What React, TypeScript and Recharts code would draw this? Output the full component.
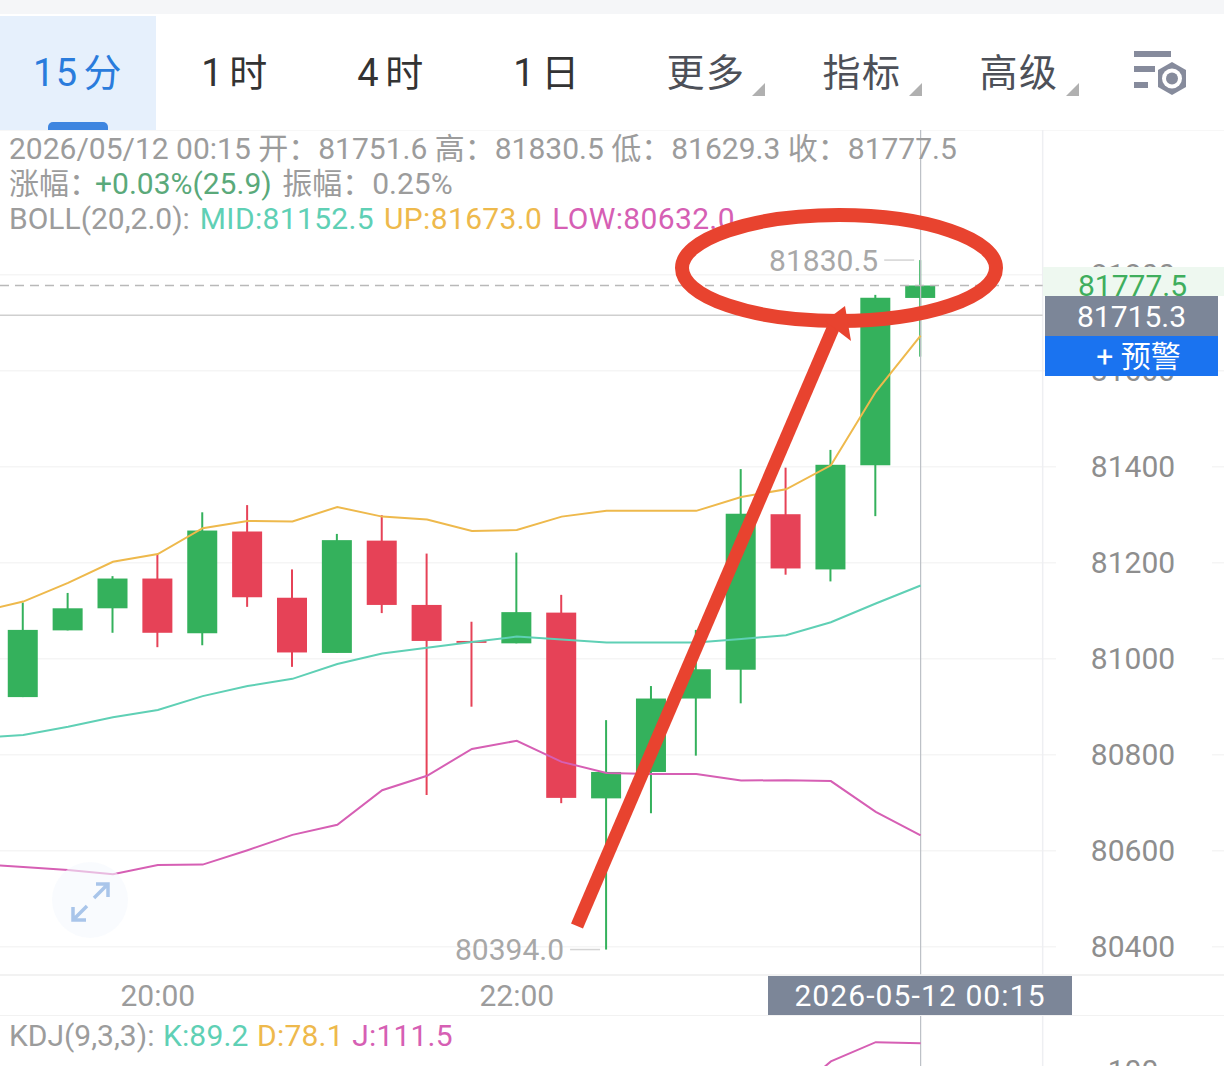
import { Bar, CartesianGrid, ComposedChart, Line, ReferenceLine, XAxis, YAxis } from "recharts";

// first row is the candle just off the left edge: only its BOLL values show
const times = ["19:00", "19:15", "19:30", "19:45", "20:00", "20:15", "20:30", "20:45", "21:00", "21:15", "21:30", "21:45", "22:00", "22:15", "22:30", "22:45", "23:00", "23:15", "23:30", "23:45", "00:00", "00:15"];
const opens = [null, 80920, 81059, 81105, 81167, 81053, 81265, 81127, 81012, 81246, 81112, 81037, 81032, 81096, 80709, 80764, 80917, 80977, 81301, 81186, 81403, 81751.6];
const highs = [null, 81117, 81137, 81172, 81218, 81305, 81320, 81186, 81260, 81299, 81219, 81077, 81221, 81133, 80872, 80943, 81060, 81395, 81398, 81435, 81758, 81830.5];
const lows = [null, 80920, 81059, 81054, 81024, 81028, 81108, 80983, 81012, 81095, 80716, 80900, 81032, 80699, 80394, 80678, 80798, 80907, 81175, 81161, 81297, 81629.3];
const closes = [null, 81060, 81105, 81167, 81054, 81267, 81128, 81013, 81247, 81112, 81037, 81033, 81097, 80710, 80764, 80917, 80978, 81302, 81188, 81404, 81752, 81777.5];
const bollUp = [81097, 81119, 81158, 81202, 81218, 81272, 81287, 81286, 81316, 81296, 81290, 81266, 81268, 81296, 81308, 81308, 81308, 81337, 81353, 81403, 81556, 81673];
const bollMid = [80835, 80841, 80858, 80878, 80893, 80922, 80943, 80958, 80989, 81011, 81023, 81035, 81046, 81040, 81034, 81034, 81034, 81041, 81049, 81076, 81115, 81152.5];
const bollLow = [80572, 80566, 80560, 80551, 80570, 80571, 80601, 80633, 80654, 80726, 80756, 80812, 80829, 80785, 80762, 80760, 80760, 80746, 80747, 80745, 80681, 80632];
const kdjJ = [null, null, null, null, null, null, null, null, null, null, null, null, null, null, null, null, null, null, 88, 104, 112, 111.5];
const priceTicks = [80400, 80600, 80800, 81000, 81200, 81400, 81600, 81800];
const timeTicks = ["20:00", "22:00"];

const lastPrice = 81777.5;
const markPrice = 81715.3;

const rows = times.map((time, i) => ({
  idx: i - 1,
  time,
  open: opens[i],
  high: highs[i],
  low: lows[i],
  close: closes[i],
  range: highs[i] == null ? null : [lows[i], highs[i]],
  up: bollUp[i],
  mid: bollMid[i],
  lower: bollLow[i],
  j: kdjJ[i],
}));

const maxHigh = Math.max(...highs.filter((v) => v != null));
const minLow = Math.min(...lows.filter((v) => v != null));

// the candles run off the left edge and the price column is part of the plot
const X_DOMAIN = [-0.517, 26.761];
const EDGE_IDX = 22.72;

const SANS = "Roboto, 'Noto Sans CJK SC', sans-serif";
const GREY = "#9c9c9c";
const GREEN = "#34b15c";
const RED = "#e64257";
const TEAL = "#5fd0b5";
const YELLOW = "#eeb94c";
const PINK = "#d65fb4";

function Candle(props: any) {
  const { x, y, width, height, payload } = props;
  if (payload.high == null) return null;
  const top = Math.min(y, y + height);
  const k = Math.abs(height) / (payload.high - payload.low);
  const cx = x + width / 2;
  const bodyTop = top + (payload.high - Math.max(payload.open, payload.close)) * k;
  const bodyH = Math.max(Math.abs(payload.open - payload.close) * k, 1.5);
  const color = payload.close >= payload.open ? GREEN : RED;
  const bottom = top + Math.abs(height);
  return (
    <g>
      <line x1={cx} x2={cx} y1={top} y2={bottom} stroke={color} strokeWidth={2} />
      <rect x={x} y={bodyTop} width={width} height={bodyH} fill={color} />
      {payload.high === maxHigh && <Extreme cx={cx} y={top} value={payload.high} />}
      {payload.low === minLow && <Extreme cx={cx} y={bottom} value={payload.low} />}
    </g>
  );
}

function Extreme({ cx, y, value }: { cx: number; y: number; value: number }) {
  return (
    <g>
      <line x1={cx - 36} x2={cx - 6} y1={y} y2={y} stroke="#d4d4d4" strokeWidth={1.5} />
      <text x={cx - 42} y={y + 10.5} textAnchor="end" fontSize={30} fontFamily={SANS} fill="#a8a8a8">
        {value.toFixed(1)}
      </text>
    </g>
  );
}

function PriceTick(props: any) {
  const { y, payload } = props;
  return (
    <g>
      <rect x={1056} y={y - 14} width={156} height={28} fill="#fff" />
      <text x={1133} y={y + 10} textAnchor="middle" fontSize={30} fontFamily={SANS} fill="#8e8e8e">
        {payload.value}
      </text>
    </g>
  );
}

function Tab({ label, cx, color }: { label: string; cx: number; color: string }) {
  return (
    <div style={{ position: "absolute", left: cx - 80, width: 160, top: 46, height: 54, lineHeight: "54px", textAlign: "center", fontSize: 38, color, letterSpacing: 1.5, wordSpacing: -6, whiteSpace: "pre" }}>
      {label}
    </div>
  );
}

function Info({ top, children }: { top: number; children: any }) {
  return (
    <div style={{ position: "absolute", left: 9, top, height: 36, lineHeight: "36px", fontSize: 30, color: GREY, whiteSpace: "pre" }}>
      {children}
    </div>
  );
}

function Toolbar() {
  return (
    <>
      <div style={{ position: "absolute", left: 0, top: 0, width: 1224, height: 14, background: "#f5f6f8" }} />
      <div style={{ position: "absolute", left: 0, top: 16, width: 156, height: 114, background: "#e6f0fc" }} />
      <div style={{ position: "absolute", left: 48, top: 122, width: 60, height: 8, background: "#3d85e0", borderRadius: "5px 5px 0 0" }} />
      <Tab label="15 分" cx={78} color="#2a7cdc" />
      <Tab label="1 时" cx={235} color="#333" />
      <Tab label="4 时" cx={391} color="#333" />
      <Tab label="1 日" cx={547} color="#333" />
      <Tab label="更多" cx={706} color="#4d5058" />
      <Tab label="指标" cx={862} color="#4d5058" />
      <Tab label="高级" cx={1019} color="#4d5058" />
      <svg width={1224} height={130} style={{ position: "absolute", left: 0, top: 0 }}>
        <polygon points="752,96 765,96 765,83" fill="#b0b0b0" />
        <polygon points="909,96 922,96 922,83" fill="#b0b0b0" />
        <polygon points="1066,96 1079,96 1079,83" fill="#b0b0b0" />
        <rect x={1134} y={51} width={37} height={6} fill="#868b9c" />
        <rect x={1134} y={66} width={21} height={6} fill="#868b9c" />
        <rect x={1134} y={82} width={14} height={6} fill="#868b9c" />
        <polygon points="1172,62 1186,70 1186,87 1172,95 1158,87 1158,70" fill="#868b9c" />
        <circle cx={1172} cy={78.5} r={10} fill="#fff" />
        <circle cx={1172} cy={78.5} r={6} fill="#868b9c" />
      </svg>
    </>
  );
}

function Legend() {
  const wide = { letterSpacing: 0.35 };
  return (
    <>
      <Info top={131}>2026/05/12 00:15 开：81751.6 高：81830.5 低：81629.3 收：81777.5</Info>
      <Info top={166}>
        涨幅：<span style={{ color: "#5aa97a", marginLeft: -4, marginRight: 3 }}>+0.03%(25.9)</span> 振幅：0.25%
      </Info>
      <Info top={201}>
        <span style={{ wordSpacing: 2.5 }}>
          BOLL(20,2.0): <span style={{ ...wide, color: TEAL }}>MID:81152.5</span> <span style={{ ...wide, color: YELLOW }}>UP:81673.0</span> <span style={{ ...wide, color: PINK }}>LOW:80632.0</span>
        </span>
      </Info>
      <Info top={1018}>
        <span style={{ wordSpacing: 1 }}>
          KDJ(9,3,3): <span style={{ letterSpacing: 0.2, color: TEAL }}>K:89.2</span> <span style={{ letterSpacing: 0.2, color: YELLOW }}>D:78.1</span> <span style={{ letterSpacing: 0.2, color: PINK }}>J:111.5</span>
        </span>
      </Info>
    </>
  );
}

function PriceTags() {
  const base = { position: "absolute", textAlign: "center", fontSize: 30, whiteSpace: "pre", boxSizing: "border-box" } as const;
  return (
    <>
      <div style={{ ...base, left: 1043, top: 267, width: 181, paddingRight: 2, height: 29, lineHeight: "38px", background: "#eef8f0", color: "#3fae5d", overflow: "hidden" }}>
        {lastPrice.toFixed(1)}
      </div>
      <div style={{ ...base, left: 1045, top: 296, width: 173, height: 40, lineHeight: "41px", background: "#7c8698", color: "#fff" }}>
        {markPrice.toFixed(1)}
      </div>
      <div style={{ ...base, left: 1045, top: 336, width: 173, paddingLeft: 14, height: 40, lineHeight: "41px", background: "#1a73f0", color: "#fff" }}>
        + 预警
      </div>
      <div style={{ ...base, left: 768, top: 976, width: 304, height: 39, lineHeight: "39px", background: "#7c8698", color: "#fff", letterSpacing: 1.1 }}>
        2026-05-12 00:15
      </div>
    </>
  );
}

function Markup() {
  return (
    <svg width={1224} height={1066} style={{ position: "absolute", left: 0, top: 0, pointerEvents: "none" }}>
      <circle cx={90} cy={900} r={38} fill="#f5f8fd" opacity={0.6} />
      <g fill="none" stroke="#a9c5ea" strokeWidth={3.5}>
        <path d="M94 898 L108 884 M96 884 H108 V897" />
        <path d="M87 906 L73 920 M73 907 V920 H86" />
      </g>
      <ellipse cx={839} cy={268} rx={157} ry={53} fill="none" stroke="#e8432f" strokeWidth={14} />
      <line x1={577} y1={926} x2={834} y2={326} stroke="#e8432f" strokeWidth={13} />
      <polygon points="845,306 825,321 851,341" fill="#e8432f" />
    </svg>
  );
}

export default function App() {
  return (
    <div style={{ position: "relative", width: 1224, height: 1066, overflow: "hidden", background: "#fff", fontFamily: SANS }}>
      <style>{"body{margin:0}"}</style>
      <Toolbar />

      <div style={{ position: "absolute", left: 0, top: 130 }}>
        <ComposedChart width={1224} height={885} data={rows} margin={{ top: 0, right: 0, bottom: 0, left: 0 }}>
          <CartesianGrid vertical={false} stroke="#f5f5f5" strokeWidth={1.5} />
          <XAxis
            dataKey="idx"
            type="number"
            domain={X_DOMAIN}
            allowDataOverflow
            ticks={timeTicks.map((t) => times.indexOf(t) - 1)}
            tickFormatter={(v) => times[v + 1]}
            height={40}
            tickSize={0}
            tickMargin={10}
            interval={0}
            axisLine={{ stroke: "#f0f0f0", strokeWidth: 1.5 }}
            tick={{ fontSize: 30, fill: GREY, fontFamily: SANS }}
          />
          <YAxis
            orientation="right"
            mirror
            domain={[80341, 82101.5]}
            allowDataOverflow
            ticks={priceTicks}
            interval={0}
            axisLine={false}
            tickLine={false}
            tick={(p) => <PriceTick {...p} />}
          />
          <ReferenceLine x={EDGE_IDX} stroke="#eeeff2" strokeWidth={1.5} />
          <ReferenceLine x={20} stroke="#bcc0c6" strokeWidth={1.2} />
          <ReferenceLine segment={[{ x: X_DOMAIN[0], y: markPrice }, { x: EDGE_IDX, y: markPrice }]} stroke="#cfcfcf" strokeWidth={1.5} />
          <Bar dataKey="range" barSize={30} shape={Candle} isAnimationActive={false} />
          <Line type="linear" dataKey="up" stroke={YELLOW} strokeWidth={2} dot={false} isAnimationActive={false} />
          <Line type="linear" dataKey="mid" stroke={TEAL} strokeWidth={2} dot={false} isAnimationActive={false} />
          <Line type="linear" dataKey="lower" stroke={PINK} strokeWidth={2} dot={false} isAnimationActive={false} />
          <ReferenceLine segment={[{ x: X_DOMAIN[0], y: lastPrice }, { x: EDGE_IDX, y: lastPrice }]} stroke="#b9b9b9" strokeWidth={1.5} strokeDasharray="9 6" />
        </ComposedChart>
      </div>

      <div style={{ position: "absolute", left: 0, top: 1015, borderTop: "1.5px solid #f2f2f2" }}>
        <ComposedChart width={1224} height={100} data={rows} margin={{ top: 0, right: 0, bottom: 0, left: 0 }}>
          <XAxis dataKey="idx" type="number" domain={X_DOMAIN} allowDataOverflow hide />
          <YAxis orientation="right" mirror domain={[81.25, 122.9]} allowDataOverflow ticks={[100]} interval={0} axisLine={false} tickLine={false} tick={(p) => <PriceTick {...p} />} />
          <ReferenceLine x={EDGE_IDX} stroke="#eeeff2" strokeWidth={1.5} />
          <ReferenceLine x={20} stroke="#bcc0c6" strokeWidth={1.2} />
          <Line type="linear" dataKey="j" stroke={PINK} strokeWidth={2} dot={false} isAnimationActive={false} />
        </ComposedChart>
      </div>

      <Legend />
      <PriceTags />
      <Markup />
    </div>
  );
}
